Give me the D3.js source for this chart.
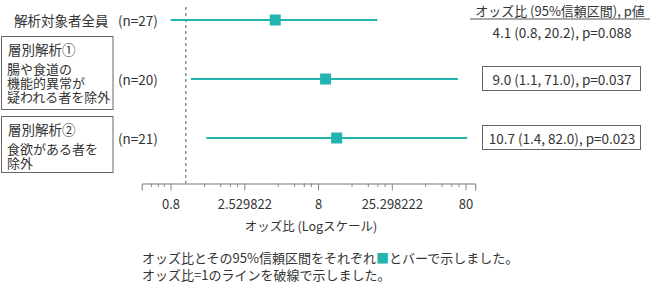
<!DOCTYPE html>
<html>
<head>
<meta charset="utf-8">
<script src="https://cdn.jsdelivr.net/npm/d3@7"></script>
<style>
  body { margin: 0; background: #fff; }
  svg text { font-family: "Noto Sans CJK JP", "Noto Sans", sans-serif; fill: #333; }
</style>
</head>
<body>
<svg id="chart" width="650" height="282"></svg>
<script>
// data
var groups = ["解析対象者全員", "層別解析①", "層別解析②"];
var subLines = [[], ["腸や食道の", "機能的異常が", "疑われる者を除外"], ["食欲がある者を", "除外"]];
var nLabels = ["(n=27)", "(n=20)", "(n=21)"];
var oddsRatio = [4.1, 9.0, 10.7];
var ciLow = [0.8, 1.1, 1.4];
var ciHigh = [20.2, 71.0, 82.0];
var pValues = ["0.088", "0.037", "0.023"];
var majorTicks = [0.8, 2.529822, 8, 25.298222, 80];
var minorTicks = [0.59, 0.656, 0.72, 1.35, 1.74, 2.02, 2.26, 4.26, 5.5, 6.4, 7.16,
                  13.5, 17.4, 20.2, 22.6, 42.6, 55, 64, 71.6];

var teal = "#23b4af";
var svg = d3.select("#chart");

var x = d3.scaleLog().domain([0.51, 93]).range([141.7, 475.2]);
var y = d3.scalePoint().domain(groups).range([20, 138]);
var axisY = 183.5;

// reference line at OR = 1
svg.append("line")
  .attr("x1", x(1) + 1).attr("x2", x(1) + 1)
  .attr("y1", 7).attr("y2", axisY)
  .attr("stroke", "#555").attr("stroke-width", 1)
  .attr("stroke-dasharray", "3,3");

// axis: minor ticks first, then major with labels
var gMinor = svg.append("g").attr("transform", "translate(0," + axisY + ")")
  .call(d3.axisBottom(x).tickValues(minorTicks).tickSize(3.5).tickFormat(""));
var gMajor = svg.append("g").attr("transform", "translate(0," + axisY + ")")
  .call(d3.axisBottom(x).tickValues(majorTicks).tickSize(7).tickPadding(9)
    .tickFormat(function(d) { return String(d); }));
gMinor.select(".domain").remove();
svg.selectAll(".domain, .tick line").attr("stroke", "#888");
gMajor.selectAll(".domain").attr("stroke", "#777");
gMajor.selectAll(".tick text")
  .style("font-size", "13px").attr("fill", "#333");

svg.append("text")
  .attr("x", 311).attr("y", 225)
  .attr("text-anchor", "middle").attr("dominant-baseline", "central")
  .style("font-size", "12.5px")
  .text("オッズ比 (Logスケール)");

// CI bars and markers
var rows = groups.map(function(g, i) { return { g: g, i: i }; });
svg.selectAll(".ci").data(rows).enter().append("line")
  .attr("x1", function(d) { return x(ciLow[d.i]); })
  .attr("x2", function(d) { return x(ciHigh[d.i]); })
  .attr("y1", function(d) { return y(d.g); })
  .attr("y2", function(d) { return y(d.g); })
  .attr("stroke", teal).attr("stroke-width", 2);

var ms = 11;
svg.selectAll(".pt").data(rows).enter().append("rect")
  .attr("x", function(d) { return x(oddsRatio[d.i]) - ms / 2; })
  .attr("y", function(d) { return y(d.g) - ms / 2; })
  .attr("width", ms).attr("height", ms)
  .attr("fill", teal);

// left labels
svg.append("text")
  .attr("x", 14).attr("y", y(groups[0]))
  .attr("dominant-baseline", "central")
  .style("font-size", "13.5px")
  .text(groups[0]);

var boxes = [{ i: 1, top: 36, bottom: 109 }, { i: 2, top: 116, bottom: 172 }];
boxes.forEach(function(b) {
  svg.append("rect")
    .attr("x", 1.5).attr("y", b.top + 0.5)
    .attr("width", 111.5).attr("height", b.bottom - b.top)
    .attr("fill", "none").attr("stroke", "#666");
  svg.append("text")
    .attr("x", 8).attr("y", b.top + 13)
    .attr("dominant-baseline", "central")
    .style("font-size", "13.5px")
    .text(groups[b.i]);
  subLines[b.i].forEach(function(s, k) {
    svg.append("text")
      .attr("x", 7).attr("y", b.top + 32 + k * 14)
      .attr("dominant-baseline", "central")
      .style("font-size", "13px")
      .text(s);
  });
});

svg.selectAll(".n").data(rows).enter().append("text")
  .attr("x", 118).attr("y", function(d) { return y(d.g); })
  .attr("dominant-baseline", "central")
  .style("font-size", "13.5px")
  .text(function(d) { return nLabels[d.i]; });

// right column
svg.append("text")
  .attr("x", 560).attr("y", 10)
  .attr("text-anchor", "middle").attr("dominant-baseline", "central")
  .style("font-size", "13px")
  .text("オッズ比 (95%信頼区間), p値");
svg.append("line")
  .attr("x1", 470).attr("x2", 650).attr("y1", 19).attr("y2", 19)
  .attr("stroke", "#aaa").attr("stroke-width", 2);

rows.forEach(function(d) {
  var label = oddsRatio[d.i].toFixed(1) + " (" + ciLow[d.i].toFixed(1) + ", " +
    ciHigh[d.i].toFixed(1) + "), p=" + pValues[d.i];
  var ty = d.i === 0 ? 32 : y(d.g);
  if (d.i > 0) {
    svg.append("rect")
      .attr("x", 482.5).attr("y", ty - 12.5)
      .attr("width", 158).attr("height", 24)
      .attr("fill", "none").attr("stroke", "#666");
  }
  svg.append("text")
    .attr("x", 562).attr("y", ty)
    .attr("text-anchor", "middle").attr("dominant-baseline", "central")
    .style("font-size", "13.5px")
    .text(label);
});

// footnote
var note1 = svg.append("text")
  .attr("x", 142).attr("y", 257)
  .attr("dominant-baseline", "central")
  .style("font-size", "13px");
note1.append("tspan").text("オッズ比とその95%信頼区間をそれぞれ");
note1.append("tspan").style("fill", teal).text("■");
note1.append("tspan").text("とバーで示しました。");
svg.append("text")
  .attr("x", 142).attr("y", 274)
  .attr("dominant-baseline", "central")
  .style("font-size", "13px")
  .text("オッズ比=1のラインを破線で示しました。");
</script>
</body>
</html>
